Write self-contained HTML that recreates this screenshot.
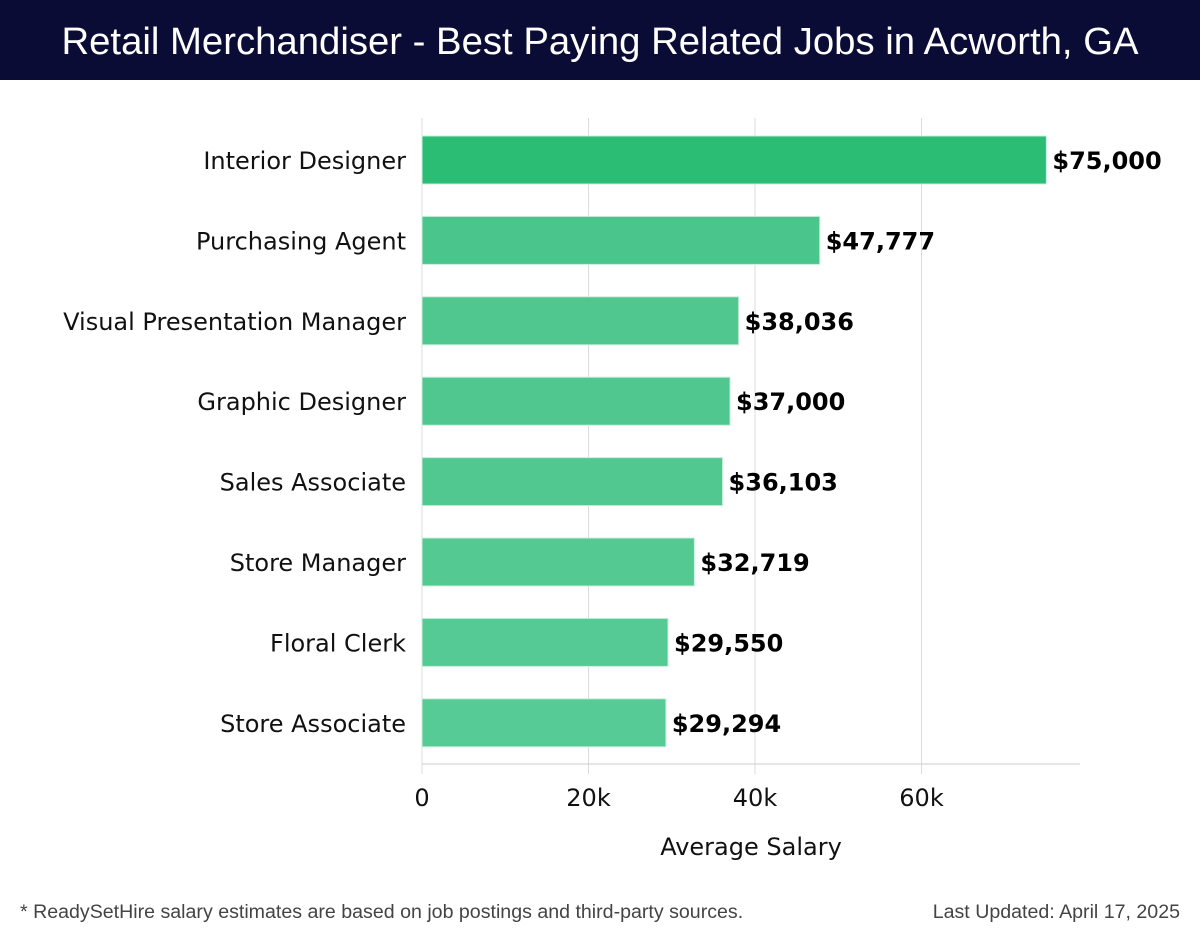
<!DOCTYPE html>
<html><head><meta charset="utf-8"><style>
body{margin:0;width:1200px;height:940px;background:#fff;overflow:hidden;font-family:"DejaVu Sans","Liberation Sans",sans-serif}
#title{position:absolute;left:0;top:0;width:1200px;height:80px;background:#0b0c35;color:#fff;font-family:"Liberation Sans",sans-serif;font-size:38.3px;line-height:84px;text-align:center}
.foot{position:absolute;top:901px;font-family:"Liberation Sans",sans-serif;font-size:19.6px;color:#444}
</style></head><body>
<div id="title">Retail Merchandiser - Best Paying Related Jobs in Acworth, GA</div>
<svg id="chart" width="1200" height="940" style="position:absolute;left:0;top:0"></svg>
<div class="foot" style="left:20px">* ReadySetHire salary estimates are based on job postings and third-party sources.</div>
<div class="foot" style="right:20px">Last Updated: April 17, 2025</div>
<script>
const categories=["Interior Designer","Purchasing Agent","Visual Presentation Manager","Graphic Designer","Sales Associate","Store Manager","Floral Clerk","Store Associate"];
const salaries=[75000,47777,38036,37000,36103,32719,29550,29294];
const ticks=[0,20000,40000,60000];
const tickLabels=["0","20k","40k","60k"];
const NS="http://www.w3.org/2000/svg";
const svg=document.getElementById('chart');
const x0=422,pxPer=166.5/20000,band=80.4,bh=48;
const x=v=>x0+v*pxPer;
const yc=i=>160+i*band;
function mk(t,a){const e=document.createElementNS(NS,t);for(const k in a)e.setAttribute(k,a[k]);svg.appendChild(e);return e;}
ticks.forEach((t,i)=>{
 const g=mk('line',{x1:x(t),x2:x(t),y1:118,y2:774,stroke:'#dcdcdc','stroke-width':1});
 
 
 const l=mk('text',{x:x(t),y:806,'text-anchor':'middle','font-size':24,fill:'#111'});
 l.textContent=tickLabels[i];
 
 
});
const ax=mk('line',{x1:x0,x2:1080,y1:764,y2:764,stroke:'#ccc','stroke-width':1});


const colors=['#2bbd74','#4ac68c','#4fc78e','#50c78f','#52c891','#54c992','#55ca94','#56cb95'];
categories.forEach((c,i)=>{
 const r=mk('rect',{x:x0,y:yc(i)-bh/2,width:x(salaries[i])-x0,height:bh,fill:colors[i],stroke:'#c8eedb','stroke-width':1});
 
 
 const l=mk('text',{x:406,y:yc(i)+9,'text-anchor':'end','font-size':24,fill:'#111'});
 l.textContent=c;
 
 
 const v=mk('text',{x:x(salaries[i])+6,y:yc(i)+9,'font-size':24,'font-weight':'bold',fill:'#000'});
 v.textContent='$'+salaries[i].toLocaleString('en-US');
 
 
});
const xt=mk('text',{x:751,y:855,'text-anchor':'middle','font-size':24,fill:'#111'});
xt.textContent='Average Salary';


</script>
</body></html>
